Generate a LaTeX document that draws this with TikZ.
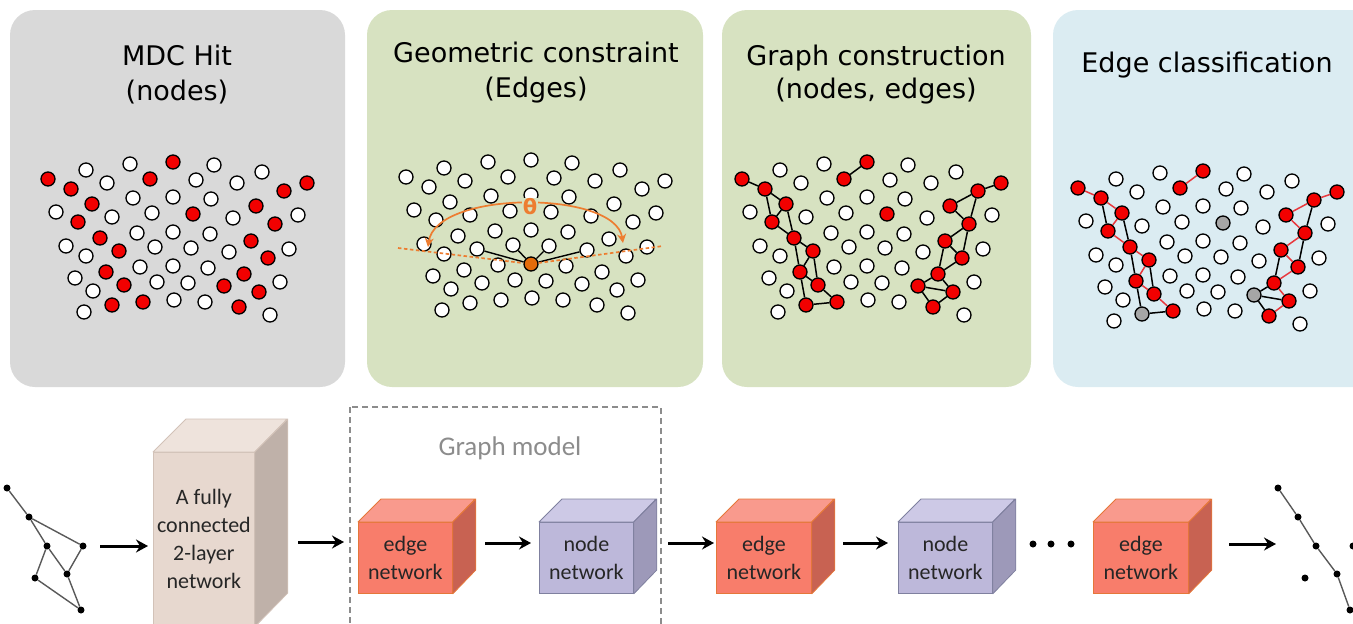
\documentclass[tikz,border=0pt]{standalone}
\usepackage{fontspec}
\setmainfont{Carlito}
\newfontfamily\titlefont{DejaVu Sans}
\usetikzlibrary{arrows.meta}
\definecolor{pgray}{HTML}{D9D9D9}
\definecolor{pgreen}{HTML}{D7E2C1}
\definecolor{pblue}{HTML}{DBECF2}
\definecolor{hred}{HTML}{F20000}
\definecolor{hgrey}{HTML}{A6A6A6}
\definecolor{horange}{HTML}{E46C0A}
\definecolor{oline}{HTML}{ED7D31}
\definecolor{redge}{HTML}{E8383D}
\definecolor{bF}{HTML}{E7D8CF}\definecolor{bT}{HTML}{EEE3DC}\definecolor{bS}{HTML}{BFB1A9}\definecolor{bB}{HTML}{D2C2B8}
\definecolor{eF}{HTML}{F87D6B}\definecolor{eT}{HTML}{F99A8D}\definecolor{eS}{HTML}{C86252}\definecolor{eB}{HTML}{E5773A}
\definecolor{nF}{HTML}{BDB8DA}\definecolor{nT}{HTML}{CDC9E6}\definecolor{nS}{HTML}{9D99B9}\definecolor{nB}{HTML}{7F809F}
\definecolor{cubetext}{HTML}{262626}
\definecolor{gmgray}{HTML}{8C8C8C}
\def\hitlist{w1/86/170/cW, w2/130/164/cW, w3/214/165/cW, w4/262/172/cW, w5/107/183/cW, w6/196/180/cW, w7/237/183/cW, w8/133/198/cW, w9/173/197/cW, w10/211/199/cW, w11/56/212/cW, w12/112/217/cW, w13/152/213/cW, w14/233/218/cW, w15/298/215/cW, w16/137/233/cW, w17/173/232/cW, w18/210/234/cW, w19/66/246/cW, w20/86/256/cW, w21/155/247/cW, w22/191/248/cW, w23/229/252/cW, w24/289/249/cW, w25/140/267/cW, c/173/266/cO, w27/208/268/cW, w28/75/278/cW, w29/93/291/cW, w30/157/282/cW, w31/188/283/cW, w32/280/282/cW, w33/84/312/cW, w34/174/300/cW, w35/205/302/cW, w36/270/315/cW, L1/48/179/cR, L2/71/189/cR, L3/92/204/cR, L4/78/222/cR, L5/100/238/cR, L6/119/251/cR, L7/106/272/cR, L8/124/285/cR, L9/112/305/cG, L10/143/302/cR, M1/150/179/cR, M2/173/162/cR, M3/193/214/cG, R1/307/183/cR, R2/284/191/cR, R3/256/206/cR, R4/275/224/cR, R5/251/241/cR, R6/268/258/cR, R7/244/274/cR, R8/224/286/cG, R9/259/292/cR, R10/239/307/cR}
\newcommand\hitset[3]{%
  \foreach \n/\x/\y/\c in \hitlist {\node[hit, fill=\c] (#1\n) at ({\x+(#2)},{\y+(#3)}) {};}}
\newcommand\cubebox[9]{% name, x, y, w, h, depth, colour prefix, text, border
  \node[draw=#9, fill=#7F, minimum width=#4pt, minimum height=#5pt, anchor=north west, inner sep=0pt, line width=0.8pt, align=center, text=cubetext, font=\fontsize{22}{28}\selectfont] (#1) at (#2,#3) {#8};
  \draw[draw=#9, fill=#7T, line width=0.8pt, line join=round] (#1.north west) -- ++(#6,-#6) -- ++(#4,0) -- (#1.north east) -- cycle;
  \draw[draw=#9, fill=#7S, line width=0.8pt, line join=round] (#1.north east) -- ++(#6,-#6) -- ++(0,#5) -- (#1.south east) -- cycle;}
\begin{document}
\begin{tikzpicture}[x=1pt,y=-1pt,
  hit/.style={circle, draw=black, line width=1.35pt, minimum size=14pt, inner sep=0pt},
  panel/.style={rounded corners=25pt},
  title/.style={font=\titlefont\fontsize{27}{30}\selectfont, anchor=base, inner sep=0pt},
  gedge/.style={line width=1.5pt, black},
  redg/.style={line width=1.5pt, redge},
  dot/.style={circle, fill=black, minimum size=7pt, inner sep=0pt},
  tline/.style={line width=1.4pt, black!65},
  arr/.style={line width=3pt, -{Stealth[length=12pt,width=13pt,inset=4pt]}},
  odash/.style={oline, line width=1.7pt, dash pattern=on 3.5pt off 2.5pt},
  oarc/.style={oline, line width=1.7pt, {Stealth[length=9pt,width=9pt]}-{Stealth[length=9pt,width=9pt]}}]
\useasboundingbox (0,0) rectangle (1353,624);
\clip (0,0) rectangle (1353,624);
% panels
\fill[panel, pgray] (10,10) rectangle (345,387);
\fill[panel, pgreen] (367,10) rectangle (703,387);
\fill[panel, pgreen] (722,10) rectangle (1031,387);
\fill[panel, pblue] (1053,10) rectangle (1380,387);
% titles
\node[title] (t1a) at (177,65) {MDC Hit};
\node[title] (t1b) at (177,100) {(nodes)};
\node[title] (t2a) at (536,62) {Geometric constraint};
\node[title] (t2b) at (536,97) {(Edges)};
\node[title] (t3a) at (876,65) {Graph construction};
\node[title] (t3b) at (876,98) {(nodes, edges)};
\node[title] (t4a) at (1207,72) {Edge classification};
% panel 1
\colorlet{cW}{white}\colorlet{cR}{hred}\colorlet{cG}{hred}\colorlet{cO}{white}
\hitset{P1}{0}{0}
% panel 2
\colorlet{cR}{white}\colorlet{cG}{white}\colorlet{cO}{horange}
\hitset{P2}{358}{-2}
\foreach \b in {L6,w21,w22,w23} \draw[line width=1.4pt] (P2c) -- (P2\b);
\coordinate (dl) at (398,248);
\coordinate (dr) at (663,246);
\draw[odash] (dl) -- (P2c) -- (dr);
\coordinate (ar1) at (428,247);
\coordinate (ar2) at (623,243);
\draw[oarc] (ar1) .. controls (436,190) and (615,190) .. (ar2);
\node[fill=pgreen, inner sep=1pt, text=oline, font=\titlefont\bfseries\fontsize{21}{21}\selectfont] (theta) at (530,207) {θ};
% panel 3
\colorlet{cR}{hred}\colorlet{cG}{hred}\colorlet{cO}{white}
\hitset{P3}{694}{0}
\foreach \a/\b in {L1/L2, L2/L3, L2/L4, L3/L4, L3/L5, L4/L5, L5/L6, L5/L7, L6/L7, L6/L8, L7/L8, L7/L9, L8/L10, L9/L10, M1/M2, R1/R2, R2/R3, R2/R4, R3/R4, R4/R5, R4/R6, R5/R6, R5/R7, R6/R7, R7/R8, R7/R9, R8/R9, R8/R10, R9/R10}
  \draw[gedge] (P3\a) -- (P3\b);
% panel 4
\colorlet{cG}{hgrey}
\hitset{P4}{1030}{9}
\foreach \a/\b in {L1/L2, L2/L3, L3/L4, L4/L5, L5/L6, L6/L7, L7/L8, L8/L10, M1/M2, R1/R2, R2/R3, R3/R4, R4/R5, R5/R6, R6/R7, R7/R9, R9/R10}
  \draw[redg] (P4\a) -- (P4\b);
\foreach \a/\b in {L2/L4, L3/L5, L5/L7, L6/L8, L7/L9, L9/L10, R2/R4, R4/R6, R5/R7, R7/R8, R8/R9, R8/R10}
  \draw[gedge] (P4\a) -- (P4\b);
% bottom left graph
\node[dot] (g1) at (7,488) {};
\node[dot] (g2) at (29,517) {};
\node[dot] (g3) at (47,546) {};
\node[dot] (g4) at (83,546) {};
\node[dot] (g5) at (67,574) {};
\node[dot] (g6) at (35,578) {};
\node[dot] (g7) at (81,610) {};
\foreach \a/\b in {g1/g2, g2/g3, g2/g4, g3/g5, g4/g5, g3/g6, g6/g7, g5/g7}
  \draw[tline] (\a) -- (\b);
% beige block
\cubebox{fc}{153}{452}{101}{174}{33}{b}{A fully\\connected\\2-layer\\network}{bB}
% graph model box
\draw[gmgray, line width=1.3pt, dash pattern=on 6pt off 4pt] (350,407) rectangle (661,660);
\node[text=gmgray, font=\fontsize{27}{27}\selectfont] (gm) at (510,448) {Graph model};
% cubes
\cubebox{e1}{358}{522}{94}{71}{23}{e}{edge\\network}{eB}
\cubebox{n1}{539}{522}{94}{71}{23}{n}{node\\network}{nB}
\cubebox{e2}{716}{522}{95}{71}{23}{e}{edge\\network}{eB}
\cubebox{n2}{898}{522}{94}{71}{23}{n}{node\\network}{nB}
\cubebox{e3}{1093}{522}{95}{71}{23}{e}{edge\\network}{eB}
% arrows
\coordinate (a1s) at (100,546); \coordinate (a1e) at (148,546);
\coordinate (a2s) at (298,542); \coordinate (a2e) at (344,542);
\coordinate (a3s) at (485,543); \coordinate (a3e) at (531,543);
\coordinate (a4s) at (668,543); \coordinate (a4e) at (714,543);
\coordinate (a5s) at (843,543); \coordinate (a5e) at (888,543);
\coordinate (a6s) at (1229,544); \coordinate (a6e) at (1276,544);
\foreach \i in {1,...,6} \draw[arr] (a\i s) -- (a\i e);
% dots
\node[dot] (d1) at (1033,544) {};
\node[dot] (d2) at (1051,544) {};
\node[dot] (d3) at (1071,544) {};
% right graph
\node[dot] (h1) at (1278,488) {};
\node[dot] (h2) at (1298,517) {};
\node[dot] (h3) at (1316,546) {};
\node[dot] (h4) at (1337,574) {};
\node[dot] (h5) at (1350,610) {};
\node[dot] (h6) at (1305,578) {};
\node[dot] (h7) at (1353,546) {};
\foreach \a/\b in {h1/h2, h2/h3, h3/h4, h4/h5}
  \draw[tline] (\a) -- (\b);
\end{tikzpicture}
\end{document}
